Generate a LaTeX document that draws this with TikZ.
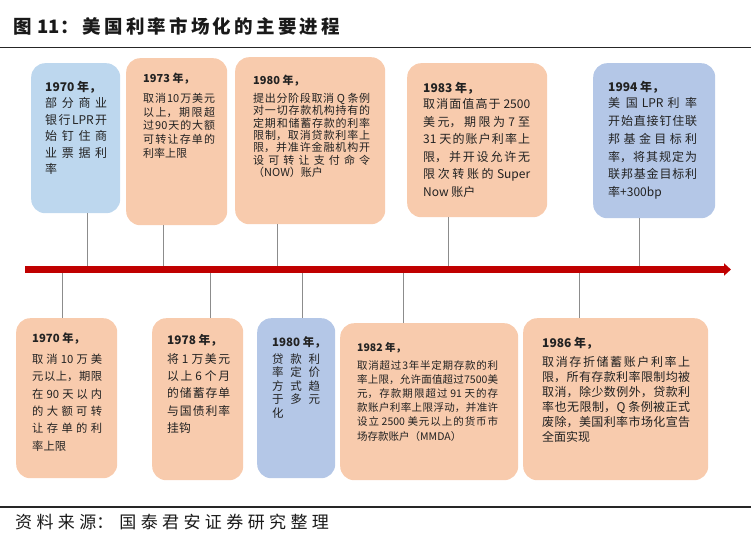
\documentclass[tikz,border=0pt]{standalone}
\usepackage{fontspec}
\setmainfont{Noto Sans CJK SC}
\usetikzlibrary{arrows.meta}
\XeTeXlinebreaklocale "zh"
\XeTeXlinebreakskip=0pt plus 6pt
\tolerance=10000
\hbadness=10000
\hfuzz=20pt
\definecolor{peach}{HTML}{F8CBAD}
\definecolor{lblue}{HTML}{BDD7EE}
\definecolor{pblue}{HTML}{B4C7E7}
\definecolor{tlred}{HTML}{C00000}
\definecolor{txt}{HTML}{222222}
\definecolor{conn}{HTML}{8C8C8C}
\newcommand\ttk{\kern3.2pt}
\newcommand\ftk{\kern4.4pt}
\tikzset{
  evbox/.style={rounded corners=14pt, draw=none, anchor=north west, inner sep=0pt},
  evtext/.style={anchor=base west, inner sep=0pt, align=justify, text=txt},
  connline/.style={draw=conn, line width=0.9pt},
  rule/.style={draw=black!85, line width=1.3pt},
}
\begin{document}
\begin{tikzpicture}[x=1pt,y=-1pt]
\useasboundingbox (0,0) rectangle (751,543);
% rules
\coordinate (r0) at (0,47.5); \coordinate (r1) at (751,47.5);
\coordinate (r2) at (0,507);  \coordinate (r3) at (751,507);
\draw[rule] (r0) -- (r1);
\draw[rule] (r2) -- (r3);
% title and footer
\node[anchor=base west, inner sep=0pt, text=black!90] (title) at (13,33.5)
  {\fontsize{18.5}{20}\selectfont\bfseries 图\kern6pt 11：\kern4pt 美\ttk 国\ttk 利\ttk 率\ttk 市\ttk 场\ttk 化\ttk 的\ttk 主\ttk 要\ttk 进\ttk 程};
\node[anchor=base west, inner sep=0pt, text=black!90] (source) at (15,528.2)
  {\fontsize{17}{19}\selectfont 资\ftk 料\ftk 来\ftk 源：\kern6pt 国\ftk 泰\ftk 君\ftk 安\ftk 证\ftk 券\ftk 研\ftk 究\ftk 整\ftk 理};
% timeline
\coordinate (tl0) at (25,269.5); \coordinate (tl1) at (731,269.5);
\draw[tlred, line width=6.8pt, -{Triangle[length=7pt,width=12pt]}] (tl0) -- (tl1);
% top boxes
\node[evbox, fill=lblue, minimum width=89pt, minimum height=150pt] (T1) at (31,63) {};
\node[evbox, fill=peach, minimum width=101pt, minimum height=167pt] (T2) at (126,58) {};
\node[evbox, fill=peach, minimum width=150pt, minimum height=167pt] (T3) at (235,57) {};
\node[evbox, fill=peach, minimum width=140pt, minimum height=154pt] (T4) at (407,63) {};
\node[evbox, fill=pblue, minimum width=122pt, minimum height=155pt] (T5) at (593,63) {};
% bottom boxes
\node[evbox, fill=peach, minimum width=101pt, minimum height=160pt] (B1) at (16,318) {};
\node[evbox, fill=peach, minimum width=91pt, minimum height=162pt] (B2) at (152,318) {};
\node[evbox, fill=pblue, minimum width=78pt, minimum height=160pt] (B3) at (257,318) {};
\node[evbox, fill=peach, minimum width=178pt, minimum height=157pt] (B4) at (340,323) {};
\node[evbox, fill=peach, minimum width=185pt, minimum height=162pt] (B5) at (523,318) {};
% texts top
\node[evtext, text width=62pt, font=\fontsize{12}{16.5}\selectfont] (T1t) at (45,91.3)
  {\mbox{\textbf{1970 年，}}\\部分商业\linebreak 银行LPR开\linebreak 始钉住商\linebreak 业票据利\linebreak 率};
\node[evtext, text width=72pt, font=\fontsize{11}{13.8}\selectfont] (T2t) at (143,82.4)
  {\mbox{\textbf{1973 年，}}\\[6pt]取消10万美元\linebreak 以上，期限超\linebreak 过90天的大额\linebreak 可转让存单的\linebreak 利率上限};
\node[evtext, text width=117pt, font=\fontsize{11}{12.4}\selectfont] (T3t) at (253,84.2)
  {\mbox{\textbf{1980 年，}}\\[5.6pt]提出分阶段取消 Q 条例\linebreak 对一切存款机构持有的\linebreak 定期和储蓄存款的利率\linebreak 限制，取消贷款利率上\linebreak 限，并准许金融机构开\linebreak 设可转让支付命令\linebreak （NOW）账户};
\node[evtext, text width=107pt, font=\fontsize{12}{17.5}\selectfont] (T4t) at (423,92.6)
  {\mbox{\textbf{1983 年，}}\\[-1.5pt]取消面值高于 2500\linebreak 美元，期限为 7 至\linebreak 31 天的账户利率上\linebreak 限，并开设允许无\linebreak 限次转账的 Super\linebreak Now 账户};
\node[evtext, text width=89pt, font=\fontsize{12}{17.8}\selectfont] (T5t) at (608,91.6)
  {\mbox{\textbf{1994 年，}}\\[-1.8pt]美国 LPR 利率\linebreak 开始直接钉住联\linebreak 邦基金目标利\linebreak 率，将其规定为\linebreak 联邦基金目标利\linebreak 率+300bp};
% texts bottom
\node[evtext, text width=70pt, font=\fontsize{11.3}{17.4}\selectfont] (B1t) at (32,342.3)
  {\mbox{\textbf{1970 年，}}\\[3.6pt]取消 10 万美\linebreak 元以上，期限\linebreak 在 90 天以内\linebreak 的大额可转\linebreak 让存单的利\linebreak 率上限};
\node[evtext, text width=63pt, font=\fontsize{11.8}{17.2}\selectfont] (B2t) at (167,344.5)
  {\mbox{\textbf{1978 年，}}\\[1.8pt]将 1 万美元\linebreak 以上 6 个月\linebreak 的储蓄存单\linebreak 与国债利率\linebreak 挂钩};
\node[evtext, text width=48pt, font=\fontsize{11.5}{13.5}\selectfont] (B3t) at (272,346.4)
  {\mbox{\textbf{1980 年，}}\\[3.5pt]贷款利\linebreak 率定价\linebreak 方式趋\linebreak 于多元\linebreak 化};
\node[evtext, text width=141pt, font=\fontsize{10.5}{14.2}\selectfont] (B4t) at (357,351)
  {\mbox{\textbf{1982 年，}}\\[3.8pt]取消超过3年半定期存款的利\linebreak 率上限，允许面值超过7500美\linebreak 元，存款期限超过 91 天的存\linebreak 款账户利率上限浮动，并准许\linebreak 设立 2500 美元以上的货币市\linebreak 场存款账户（MMDA）};
\node[evtext, text width=148pt, font=\fontsize{12}{14.9}\selectfont] (B5t) at (542,347.6)
  {\mbox{\textbf{1986 年，}}\\[4pt]取消存折储蓄账户利率上\linebreak 限，所有存款利率限制均被\linebreak 取消，除少数例外，贷款利\linebreak 率也无限制，Q 条例被正式\linebreak 废除，美国利率市场化宣告\linebreak 全面实现};
% connector anchor points on the timeline
\coordinate (a1) at (87,266);  \coordinate (a2) at (163,266); \coordinate (a3) at (277,266);
\coordinate (a4) at (448,266); \coordinate (a5) at (639,266);
\coordinate (b1) at (62,273);  \coordinate (b2) at (210,273); \coordinate (b3) at (302,273);
\coordinate (b4) at (403,273); \coordinate (b5) at (579,273);
\draw[connline] (a1 |- T1.south) -- (a1);
\draw[connline] (a2 |- T2.south) -- (a2);
\draw[connline] (a3 |- T3.south) -- (a3);
\draw[connline] (a4 |- T4.south) -- (a4);
\draw[connline] (a5 |- T5.south) -- (a5);
\draw[connline] (b1) -- (b1 |- B1.north);
\draw[connline] (b2) -- (b2 |- B2.north);
\draw[connline] (b3) -- (b3 |- B3.north);
\draw[connline] (b4) -- (b4 |- B4.north);
\draw[connline] (b5) -- (b5 |- B5.north);
\end{tikzpicture}
\end{document}
